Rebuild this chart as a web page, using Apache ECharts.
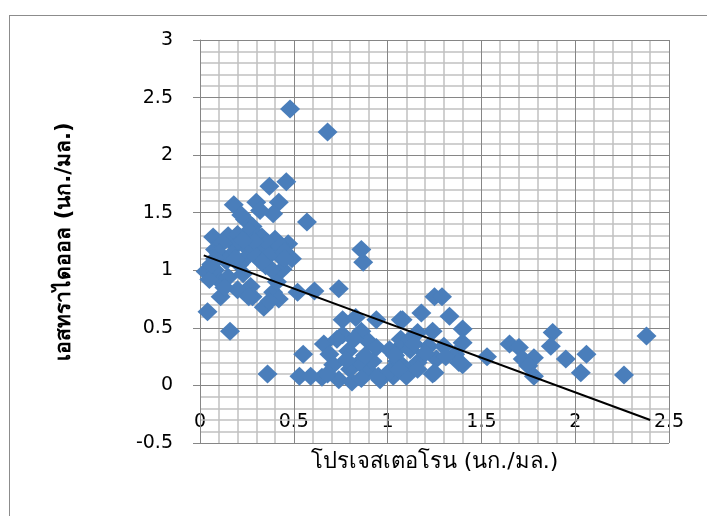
<!DOCTYPE html>
<html>
<head>
<meta charset="utf-8">
<script src="https://cdn.jsdelivr.net/npm/echarts@6/dist/echarts.min.js"></script>
<style>
html,body{margin:0;padding:0;background:#fff;overflow:hidden;}
#wrap{position:relative;width:707px;height:516px;overflow:hidden;}
#chart{width:707px;height:516px;}
#frame{position:absolute;left:9px;top:15px;width:800px;height:600px;border-left:1px solid #8c8c8c;border-top:1px solid #8c8c8c;pointer-events:none;}
</style>
</head>
<body>
<div id="wrap">
<div id="chart"></div>
<div id="frame"></div>
</div>
<script>
// Progesterone (x) values, ng/ml
const progesterone = [
  0.48,0.68,
  0.46,0.37,0.18,0.30,0.42,0.39,0.57,0.24,0.28,0.22,0.32,0.26,0.31,
  0.07,0.15,0.20,0.33,0.40,0.47,0.08,0.19,0.26,0.33,0.40,0.49,0.44,0.24,
  0.12,0.10,0.36,0.43,0.29,0.23,0.17,0.30,0.37,0.45,0.14,0.21,0.35,
  0.03,0.08,0.11,0.05,0.15,0.23,0.27,0.20,0.11,0.28,0.34,0.39,0.41,0.44,0.38,0.42,0.37,0.52,0.61,
  0.04,0.16,0.45,0.33,0.19,0.08,0.13,0.06,0.36,0.26,
  0.86,0.87,0.74,
  0.76,0.83,0.94,1.07,0.76,0.86,0.90,0.66,0.55,0.69,0.79,0.94,1.07,0.53,0.65,0.71,0.80,0.74,0.81,0.89,0.92,0.96,1.03,1.08,0.59,0.85,0.73,0.82,0.88,0.78,0.68,0.86,
  1.25,1.29,1.18,1.33,1.40,1.08,1.24,1.16,1.07,1.01,1.12,1.22,1.30,1.40,1.36,1.40,1.26,1.16,1.05,1.10,1.24,0.95,1.01,1.16,1.04,1.12,1.20,1.31,1.14,1.06,1.38,1.25,
  1.53,1.65,1.70,1.88,1.87,1.95,2.06,2.03,2.26,2.38,1.72,1.78,1.75,1.78
];
// Estradiol (y) values, ng/ml
const estradiol = [
  2.40,2.20,
  1.77,1.73,1.57,1.59,1.59,1.49,1.42,1.44,1.38,1.48,1.52,1.34,1.30,
  1.29,1.30,1.31,1.29,1.27,1.23,1.18,1.21,1.18,1.20,1.18,1.10,1.10,1.10,
  1.24,1.15,1.24,1.21,1.25,1.26,1.14,1.12,1.13,1.16,1.08,1.05,1.04,
  0.99,1.00,0.90,0.92,0.94,0.97,0.86,0.83,0.77,0.77,0.68,0.81,0.90,1.01,1.01,0.75,0.73,0.81,0.82,
  0.64,0.47,1.10,1.07,1.10,1.10,0.85,1.05,0.10,0.77,
  1.18,1.07,0.84,
  0.57,0.59,0.57,0.57,0.44,0.47,0.38,0.36,0.27,0.27,0.30,0.33,0.34,0.08,0.07,0.18,0.14,0.05,0.03,0.14,0.21,0.05,0.08,0.17,0.08,0.20,0.40,0.40,0.26,0.22,0.10,0.06,
  0.77,0.77,0.63,0.60,0.49,0.57,0.47,0.46,0.40,0.31,0.31,0.34,0.34,0.37,0.27,0.18,0.23,0.20,0.21,0.08,0.10,0.08,0.12,0.14,0.26,0.40,0.28,0.25,0.36,0.14,0.20,0.11,
  0.25,0.36,0.33,0.46,0.34,0.23,0.27,0.11,0.09,0.43,0.23,0.24,0.17,0.08
];
// Linear trend line end points
const trendX = [0.02, 2.40];
const trendY = [1.13, -0.30];
// Axis ticks (major) and minor gridline step
const xTicks = [0, 0.5, 1, 1.5, 2, 2.5];
const yTicks = [-0.5, 0, 0.5, 1, 1.5, 2, 2.5, 3];
const minorPerMajor = 5;

const points = progesterone.map((x, i) => [x, estradiol[i]]);
const trend = trendX.map((x, i) => [x, trendY[i]]);

function minorValues(ticks) {
  const out = [];
  for (let i = 0; i < ticks.length - 1; i++) {
    const step = (ticks[i + 1] - ticks[i]) / minorPerMajor;
    for (let k = 1; k < minorPerMajor; k++) out.push(+(ticks[i] + k * step).toFixed(4));
  }
  return out;
}
const xMinor = minorValues(xTicks), yMinor = minorValues(yTicks);

const NUMFONT = '"DejaVu Sans", sans-serif';
const TFONT = '"DejaVu Sans", "Noto Sans", sans-serif';
const GRID_TOP = 40, GRID_BOTTOM = 73;
const chartH = 516;
const plotH = chartH - GRID_TOP - GRID_BOTTOM;
const yMin = yTicks[0], yMax = yTicks[yTicks.length - 1];
// lift the x axis labels from the bottom edge up to the zero line
const zeroOffset = -plotH * (0 - yMin) / (yMax - yMin);

function gridSeries(name, xs, ys, color, width, z) {
  return {
    type: 'line', name: name, data: [], silent: true, z: z,
    markLine: {
      silent: true, symbol: 'none', z: z, animation: false,
      label: {show: false}, emphasis: {disabled: true},
      lineStyle: {type: 'solid', color: color, width: width},
      data: xs.map(v => ({xAxis: v})).concat(ys.map(v => ({yAxis: v})))
    }
  };
}

const chart = echarts.init(document.getElementById('chart'), null, {renderer: 'canvas'});
chart.setOption({
  animation: false,
  backgroundColor: '#ffffff',
  grid: {left: 200, top: GRID_TOP, right: 38, bottom: GRID_BOTTOM, containLabel: false, outerBoundsMode: 'none'},
  xAxis: {
    type: 'value', min: xTicks[0], max: xTicks[xTicks.length - 1], interval: 0.5,
    position: 'bottom', offset: zeroOffset,
    name: 'โปรเจสเตอโรน (นก./มล.)', nameLocation: 'middle', nameGap: 66,
    nameTextStyle: {fontFamily: TFONT, fontSize: 22, color: '#000'},
    axisLine: {show: false, onZero: false},
    axisTick: {show: false},
    axisLabel: {fontFamily: NUMFONT, fontSize: 19, color: '#000', margin: 27,
      formatter: v => String(v)},
    splitLine: {show: true, lineStyle: {color: '#868686', width: 1}},
    minorSplitLine: {show: false}
  },
  yAxis: {
    type: 'value', min: yMin, max: yMax, interval: 0.5,
    name: 'เอสทราไดออล (นก./มล.)', nameLocation: 'middle', nameGap: 125,
    nameTextStyle: {fontFamily: TFONT, fontSize: 21, fontWeight: 'bold', color: '#000'},
    axisLine: {show: true, onZero: false, lineStyle: {color: '#868686', width: 1}},
    axisTick: {show: true, inside: false, length: 7, lineStyle: {color: '#868686'}},
    axisLabel: {fontFamily: NUMFONT, fontSize: 19, color: '#000', margin: 27,
      formatter: v => String(v)},
    splitLine: {show: true, lineStyle: {color: '#868686', width: 1}},
    minorSplitLine: {show: false}
  },
  series: [
    gridSeries('minorGrid', xMinor, yMinor, '#c0c0c0', 1.5, 1),
    gridSeries('majorGrid', xTicks, yTicks, '#868686', 1, 2),
    {
      type: 'scatter', name: 'data', data: points, symbol: 'diamond', symbolSize: [20, 19],
      itemStyle: {color: '#4a7ebb', opacity: 1}, z: 3
    }, {
      type: 'line', name: 'trend', data: trend, symbol: 'none', z: 4,
      lineStyle: {color: '#000000', width: 2}
    }
  ]
});
</script>
</body>
</html>
